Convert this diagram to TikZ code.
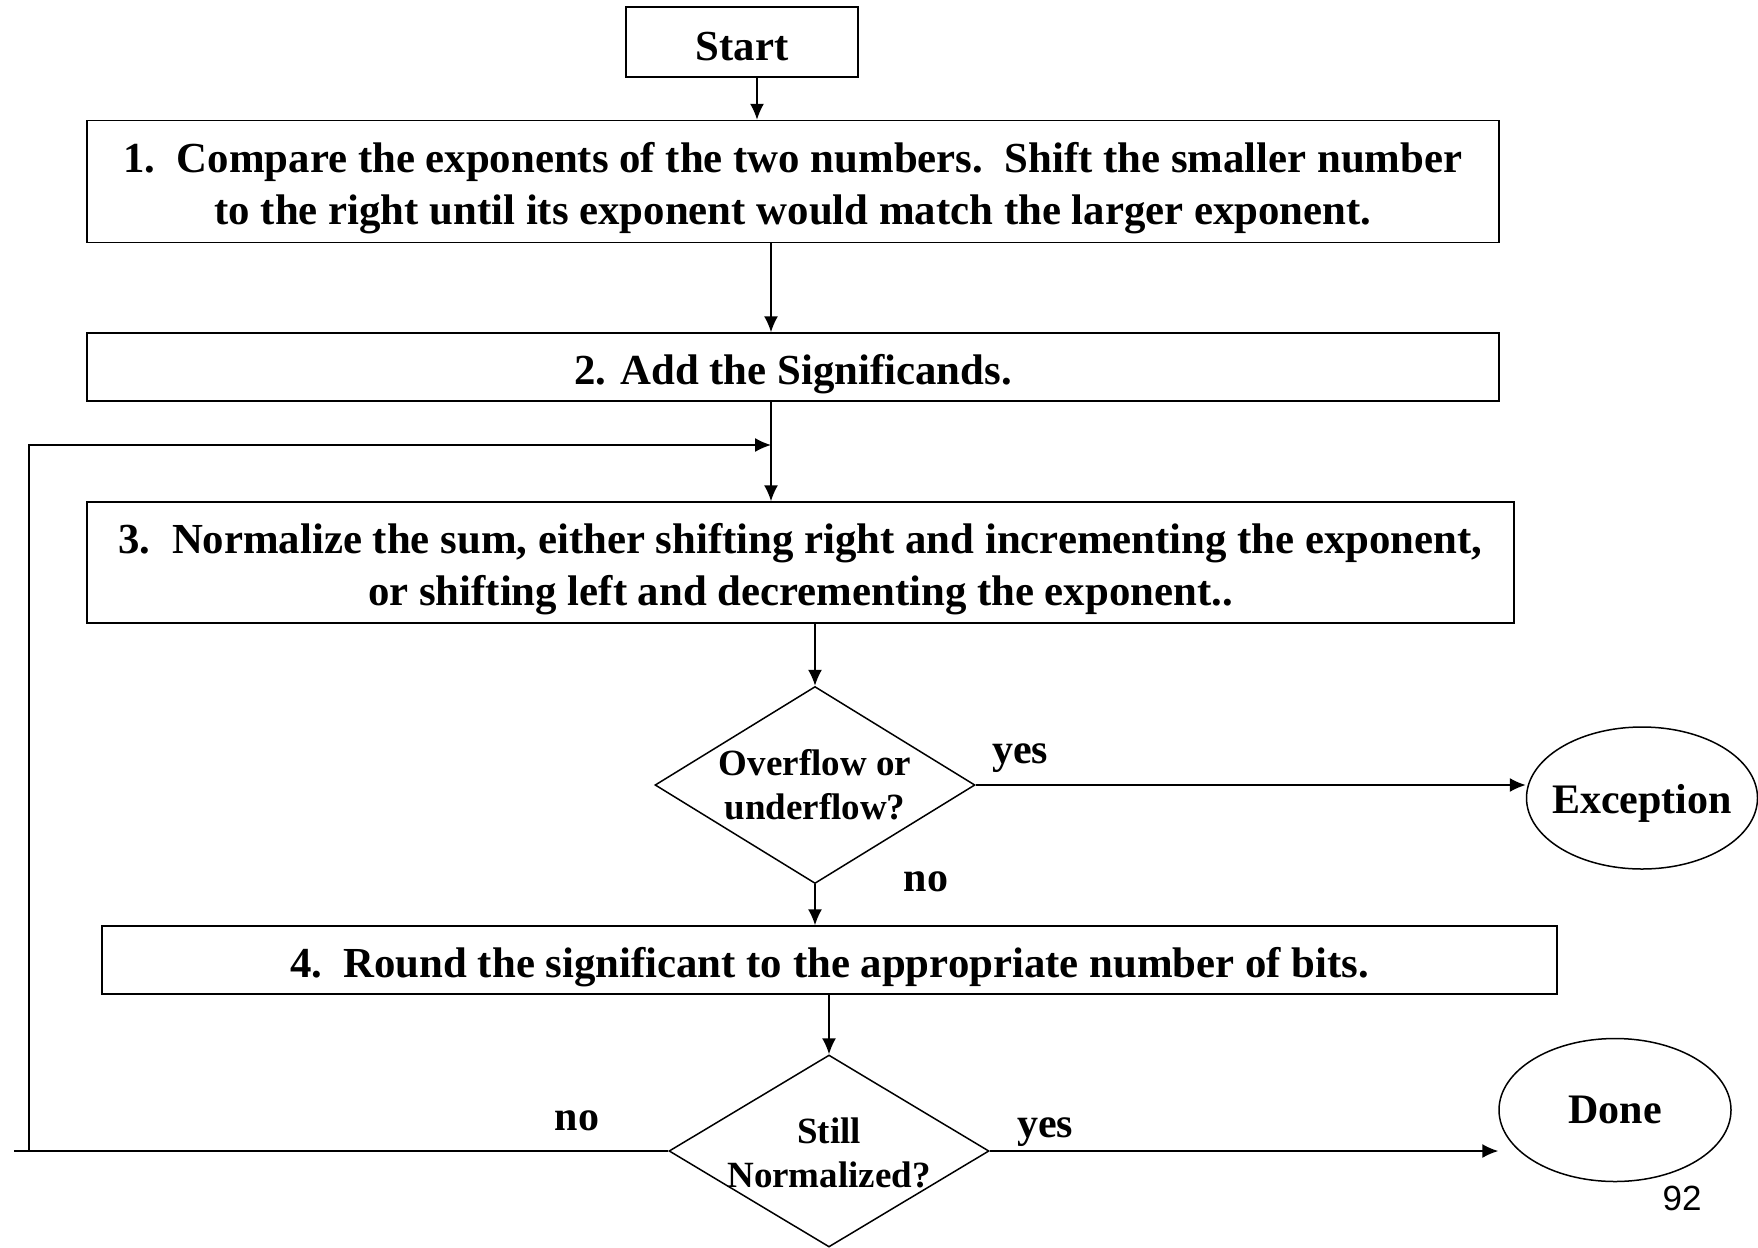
\documentclass[tikz,border=0pt]{standalone}
\usepackage{fontspec}
\setmainfont{Liberation Serif}
\newfontfamily\pagefont{Liberation Sans}
\usetikzlibrary{positioning,shapes.geometric,arrows.meta}
\newcommand\lift[1][43.5pt]{\rule{0pt}{#1}}

\begin{document}
\begin{tikzpicture}[x=1pt,y=-1pt,line width=1.5pt,>={Latex[length=16pt,width=14pt]},
    every node/.style={inner sep=0pt,align=center,
      font=\fontsize{42}{52}\selectfont\bfseries},
    stepbox/.style={draw,rectangle,font=\fontsize{42.8}{52}\selectfont\bfseries},
    test/.style={draw,diamond,minimum width=320pt},
    term/.style={draw,ellipse},
    small/.style={font=\fontsize{37}{44}\selectfont\bfseries}]
  \useasboundingbox (0,0) rectangle (1758,1247);

  \node[stepbox,minimum width=232pt,minimum height=70pt] (start) at (742,42) {\lift[36.5pt]Start};
  \node[stepbox,minimum width=1412pt,minimum height=122pt] (s1) at (793,181.5)
    {\lift1.\ \ Compare the exponents of the two numbers.\ \ Shift the smaller number\\
     to the right until its exponent would match the larger exponent.};
  \node[stepbox,minimum width=1412pt,minimum height=68pt] (s2) at (793,367)
    {\lift2. Add the Significands.};
  \node[stepbox,minimum width=1427pt,minimum height=121pt] (s3) at (800.5,562.5)
    {\lift3.\ \ Normalize the sum, either shifting right and incrementing the exponent,\\
     or shifting left and decrementing the exponent..};
  \node[stepbox,minimum width=1455pt,minimum height=68pt] (s4) at (829.5,960)
    {\lift4.\ \ Round the significant to the appropriate number of bits.};

  % decisions
  \node[test,minimum height=197pt] (ovf) at (815,785) {};
  \node[small] (ovft) at (ovf) {Overflow or\\underflow?};
  \node[test,minimum height=192pt] (norm) at (829,1151) {};
  \node[small] (normt) at ([yshift=-2pt]norm.center) {Still\\Normalized?};

  % end points
  \node[term,minimum width=231pt,minimum height=142pt] (exc) at (1642,798) {};
  \node (exct) at ([yshift=-5pt]exc.center) {Exception};
  \node[term,minimum width=232pt,minimum height=143pt] (done) at (1615,1110) {};
  \node (donet) at (done) {Done};

  \node[anchor=base] (yes1) at (1020,763) {yes};
  \node[anchor=base] (no1) at (926,891) {no};
  \node[anchor=base] (no2) at (577,1130) {no};
  \node[anchor=base] (yes2) at (1045,1137) {yes};
  \node[anchor=base,font=\fontsize{35}{42}\selectfont\pagefont] (page) at (1682,1210) {92};

  \coordinate (join) at (771,445);
  \coordinate (back) at (29,1151);
  \coordinate (tail) at (14,1151);

  \draw[->] ([xshift=15pt]start.south) -- ([xshift=15pt]start.south |- s1.north);
  \draw[->] (s1.south -| join) -- (s2.north -| join);
  \draw[->] (s2.south -| join) -- (s3.north -| join);
  \draw[->] (s3.south -| ovf.north) -- (ovf.north);
  \draw[->] (ovf.east) -- (ovf.east -| exc.west);
  \draw[->] (ovf.south) -- (ovf.south |- s4.north);
  \draw[->] (s4.south -| norm.north) -- (norm.north);
  \draw[->] (norm.east) -- (norm.east -| done.west);
  \draw (norm.west) -- (tail);
  \draw[->] (back) -- (back |- join) -- (join);
\end{tikzpicture}
\end{document}
